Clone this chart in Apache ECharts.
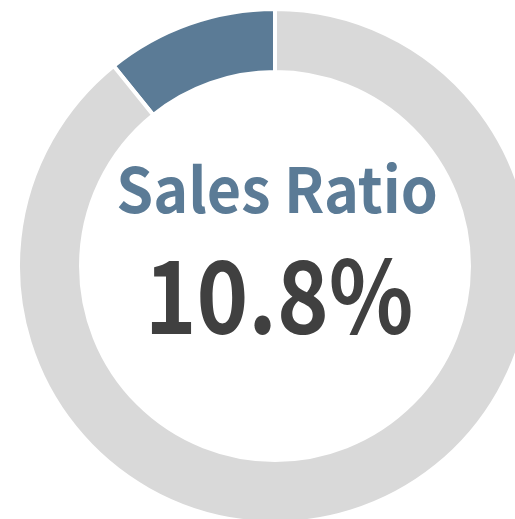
<!DOCTYPE html>
<html>
<head>
<meta charset="utf-8">
<script src="https://cdn.jsdelivr.net/npm/echarts@6/dist/echarts.min.js"></script>
<style>
  html, body { margin: 0; padding: 0; background: #fff; }
  #main { width: 515px; height: 519px; }
</style>
</head>
<body>
<div id="main"></div>
<script type="text/javascript">
    // 数据
    var names = ['Sales', 'Other'];
    var values = [10.8, 89.2];
    var colors = ['#5b7b96', '#d9d9d9'];
    var titleText = 'Sales Ratio';
    var valueText = '10.8%';

    var myChart = echarts.init(document.getElementById('main'));

    var data = [];
    for (var i = 0; i < names.length; i++) {
        data.push({ name: names[i], value: values[i], itemStyle: { color: colors[i] } });
    }

    var option = {
        animation: false,
        graphic: [
            {
                type: 'text',
                x: 277, y: 189,
                scaleX: 0.955,
                style: {
                    text: titleText,
                    fill: '#5b7b96',
                    font: 'bold 62px "Noto Sans CJK JP"',
                    textAlign: 'center',
                    textVerticalAlign: 'middle'
                }
            },
            {
                type: 'text',
                x: 279, y: 296,
                scaleX: 0.87,
                style: {
                    text: valueText,
                    fill: '#404040',
                    font: 'bold 101px "Noto Sans CJK JP"',
                    textAlign: 'center',
                    textVerticalAlign: 'middle'
                }
            }
        ],
        series: [
            {
                type: 'pie',
                center: [275, 266],
                radius: [194, 257],
                startAngle: 90,
                clockwise: false,
                silent: true,
                label: { show: false },
                labelLine: { show: false },
                itemStyle: { borderColor: '#fff', borderWidth: 4 },
                data: data
            }
        ]
    };
    myChart.setOption(option);
</script>
</body>
</html>
